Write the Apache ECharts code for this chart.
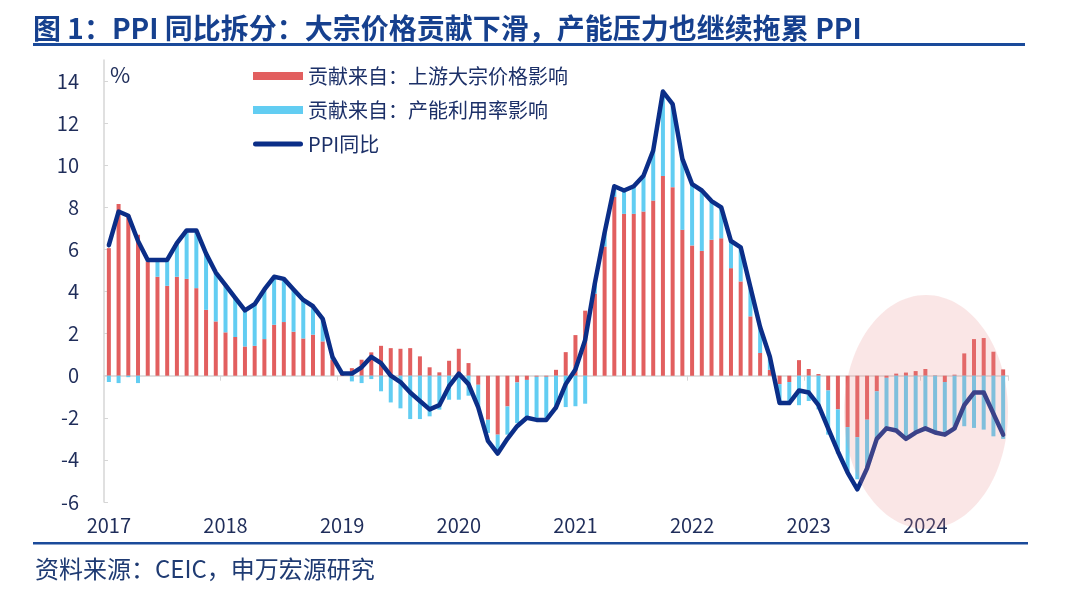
<!DOCTYPE html>
<html>
<head>
<meta charset="utf-8">
<script src="https://cdn.jsdelivr.net/npm/echarts@6/dist/echarts.min.js"></script>
<style>
    html, body { margin: 0; padding: 0; background: #fff; }
    #chart { width: 1080px; height: 591px; }
</style>
</head>
<body>
<div id="chart"></div>
<script>
// monthly, 2017-01 .. 2024-09
const years = ["2017", "2018", "2019", "2020", "2021", "2022", "2023", "2024"];

// PPI同比 (%)
const ppi = [
    6.2, 7.8, 7.6, 6.4, 5.5, 5.5, 5.5, 6.3, 6.9, 6.9, 5.8, 4.9,
    4.3, 3.7, 3.1, 3.4, 4.1, 4.7, 4.6, 4.1, 3.6, 3.3, 2.7, 0.9,
    0.1, 0.1, 0.4, 0.9, 0.6, 0.0, -0.3, -0.8, -1.2, -1.6, -1.4, -0.5,
    0.1, -0.4, -1.5, -3.1, -3.7, -3.0, -2.4, -2.0, -2.1, -2.1, -1.5, -0.4,
    0.3, 1.7, 4.4, 6.8, 9.0, 8.8, 9.0, 9.5, 10.7, 13.5, 12.9, 10.3,
    9.1, 8.8, 8.3, 8.0, 6.4, 6.1, 4.2, 2.3, 0.9, -1.3, -1.3, -0.7,
    -0.8, -1.4, -2.5, -3.6, -4.6, -5.4, -4.4, -3.0, -2.5, -2.6, -3.0, -2.7,
    -2.5, -2.7, -2.8, -2.5, -1.4, -0.8, -0.8, -1.8, -2.8
];

// 贡献来自：上游大宗价格影响
const upstream = [
    6.06, 8.16, 7.64, 6.7, 5.43, 4.7, 4.27, 4.7, 4.6, 4.16, 3.13, 2.58,
    2.06, 1.84, 1.39, 1.42, 1.74, 2.42, 2.55, 2.09, 1.77, 1.95, 1.63, 0.76,
    0.1, 0.36, 0.76, 1.11, 1.42, 1.31, 1.28, 1.31, 0.92, 0.4, 0.16, 0.71,
    1.28, 0.6, -0.43, -2.09, -2.8, -1.46, -0.32, -0.2, -0.05, -0.05, 0.28, 1.12,
    1.93, 3.09, 3.9, 6.14, 8.5, 7.69, 7.69, 7.8, 8.32, 9.49, 8.96, 6.93,
    6.19, 5.93, 6.46, 6.53, 5.11, 4.48, 2.82, 1.08, 0.28, -0.4, -0.3, 0.74,
    0.32, 0.08, -0.7, -1.6, -2.44, -2.92, -2.09, -0.74, -0.1, 0.1, 0.15, 0.22,
    0.32, 0.02, -0.3, 0.05, 1.06, 1.74, 1.79, 1.14, 0.3
];

// 贡献来自：产能利用率影响
const capacity = [
    -0.3, -0.35, -0.07, -0.35, 0.05, 0.8, 1.2, 1.6, 2.3, 2.7, 2.7, 2.3,
    2.2, 1.85, 1.7, 1.95, 2.35, 2.25, 2.0, 2.0, 1.8, 1.35, 1.05, 0.14,
    0.0, -0.27, -0.35, -0.16, -0.74, -1.27, -1.55, -2.06, -2.06, -1.93, -1.61, -1.14,
    -1.14, -0.95, -1.05, -0.63, -0.8, -1.34, -1.93, -1.8, -1.95, -1.95, -1.6, -1.49,
    -1.45, -1.33, 0.5, 0.66, 0.5, 1.14, 1.31, 1.66, 2.38, 4.0, 3.94, 3.37,
    2.91, 2.87, 1.84, 1.47, 1.29, 1.62, 1.38, 1.22, 0.62, -0.9, -0.95, -1.4,
    -1.2, -1.6, -2.1, -2.1, -2.16, -2.0, -2.3, -2.3, -2.4, -2.6, -2.9, -2.75,
    -2.64, -2.64, -2.42, -2.56, -2.4, -2.48, -2.56, -2.88, -3.0
];

const months = [];
years.forEach(function (y) {
    for (let m = 1; m <= 12; m++) months.push(y + "-" + (m < 10 ? "0" + m : m));
});
months.length = ppi.length;

const FONT = "'Noto Sans CJK SC', 'Noto Sans', sans-serif";
const TEXT = "#1f2d5a";
const yearStart = function (index) { return index % 12 === 0; };

const chart = echarts.init(document.getElementById("chart"));

const option = {
    animation: false,
    backgroundColor: "#fff",
    textStyle: { fontFamily: FONT },
    title: {
        text: "图 1：PPI 同比拆分：大宗价格贡献下滑，产能压力也继续拖累 PPI",
        left: 33,
        top: 14,
        padding: 0,
        textStyle: { fontFamily: FONT, fontSize: 28, fontWeight: "bold", color: "#16408e" },
    },
    legend: {
        orient: "vertical",
        left: 248,
        top: 59,
        itemWidth: 50,
        itemHeight: 8,
        itemGap: 10,
        symbolKeepAspect: true,
        textStyle: { fontFamily: FONT, fontSize: 20, lineHeight: 24, color: "#1c3068" },
        data: [
            { name: "贡献来自：上游大宗价格影响", icon: "rect" },
            { name: "贡献来自：产能利用率影响", icon: "rect" },
            // thick rounded stroke, no marker
            { name: "PPI同比", icon: "path://M2.5,0 L47.5,0 A2.5,2.5 0 0 1 47.5,5 L2.5,5 A2.5,2.5 0 0 1 2.5,0 Z" },
        ],
    },
    grid: { left: 104, right: 72, top: 60, bottom: 89 },
    xAxis: [
        {
            // year labels along the bottom
            type: "category",
            data: months,
            position: "bottom",
            axisLine: { show: false, onZero: false },
            axisTick: { show: false },
            axisLabel: {
                interval: yearStart,
                formatter: function (v) { return v.slice(0, 4); },
                margin: 13,
                fontFamily: FONT,
                fontSize: 20,
                color: TEXT,
            },
        },
        {
            // zero line with year ticks
            type: "category",
            data: months,
            position: "bottom",
            axisLine: { show: true, onZero: true, lineStyle: { color: "#d6d6d6", width: 1.5 } },
            axisTick: { show: true, interval: yearStart, alignWithLabel: false, length: 5, lineStyle: { color: "#d6d6d6" } },
            axisLabel: { show: false },
        },
    ],
    yAxis: {
        type: "value",
        min: -6,
        max: 15,
        interval: 2,
        splitLine: { show: false },
        axisLine: { show: true, lineStyle: { color: "#d6d6d6", width: 1.5 } },
        axisTick: { show: true, inside: true, length: 4, lineStyle: { color: "#d6d6d6" } },
        axisLabel: { showMaxLabel: false, margin: 25, fontFamily: FONT, fontSize: 20, color: TEXT },
    },
    series: [
        {
            name: "贡献来自：上游大宗价格影响",
            type: "bar",
            stack: "total",
            barWidth: 4,
            itemStyle: { color: "#e25f5f" },
            data: upstream,
        },
        {
            name: "贡献来自：产能利用率影响",
            type: "bar",
            stack: "total",
            barWidth: 4,
            itemStyle: { color: "#62cdf2" },
            data: capacity,
        },
        {
            name: "PPI同比",
            type: "line",
            symbol: "none",
            lineStyle: { color: "#0b2e88", width: 4.5, cap: "round", join: "round" },
            itemStyle: { color: "#0b2e88" },
            data: ppi,
        },
    ],
    graphic: [
        { type: "text", left: 110, top: 64, style: { text: "%", font: "22px " + FONT, fill: TEXT } },
        { type: "rect", shape: { x: 33, y: 43, width: 992, height: 3 }, style: { fill: "#1a4a9a" } },
        { type: "rect", shape: { x: 33, y: 542, width: 995, height: 2.5 }, style: { fill: "#1a4a9a" } },
        {
            type: "text", left: 35, top: 557,
            style: { text: "资料来源：CEIC，申万宏源研究", font: "24px " + FONT, fill: "#1f3b73" },
        },
        // highlight of the latest period
        {
            type: "ellipse", z: 100, silent: true,
            shape: { cx: 926, cy: 412, rx: 82, ry: 117 },
            style: { fill: "rgba(232,140,140,0.22)" },
        },
    ],
};

chart.setOption(option);
</script>
</body>
</html>
